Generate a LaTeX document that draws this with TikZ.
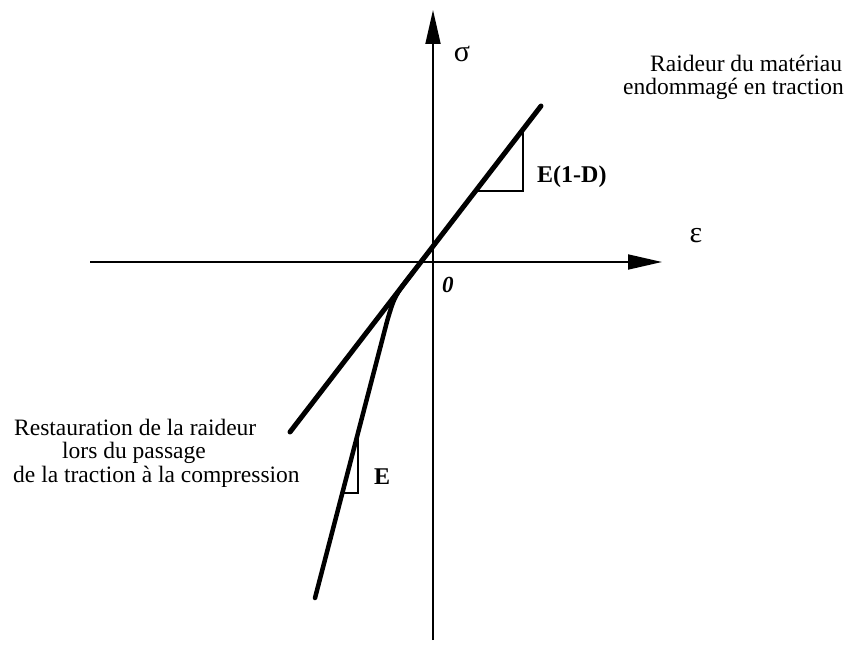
\documentclass[tikz,border=0pt]{standalone}
\usepackage{fontspec}
\setmainfont{Liberation Serif}
\usetikzlibrary{arrows.meta}
\begin{document}
\begin{tikzpicture}[x=1pt,y=-1pt,
  axis/.style={line width=1.8pt,-{Triangle[length=34pt,width=15pt]}},
  curve/.style={line width=5pt,line cap=round},
  tri/.style={line width=1.6pt},
  lbl/.style={inner sep=0pt,font=\fontsize{23.5}{23.5}\selectfont},
  blbl/.style={inner sep=0pt,font=\fontsize{24}{24}\selectfont\bfseries},
  greek/.style={inner sep=0pt,font=\fontsize{30}{30}\selectfont}]
\useasboundingbox (0,0) rectangle (851,652);
% axes
\coordinate (yb) at (433,640);
\coordinate (yt) at (433,10);
\coordinate (xl) at (90,262);
\coordinate (xr) at (662,262);
\draw[axis] (yb) -- (yt);
\draw[axis] (xl) -- (xr);
% damaged stiffness line
\coordinate (d1) at (290,432);
\coordinate (d2) at (541,106);
\draw[curve] (d1) -- (d2);
% restored stiffness line
\coordinate (s1) at (315,598);
\coordinate (s2) at (387.4,320);
\coordinate (sk) at (394.6,296);
\coordinate (s3) at (412.4,273);
\draw[curve,line width=4.5pt] (s1) -- (s2) .. controls (sk) .. (s3);
% slope triangles
\coordinate (t1a) at (475.6,191);
\coordinate (t1b) at (523,191);
\coordinate (t1c) at (523,129.4);
\draw[tri] (t1a) -- (t1b) -- (t1c);
\coordinate (t2a) at (342.3,493);
\coordinate (t2b) at (358,493);
\coordinate (t2c) at (358,433);
\draw[tri] (t2a) -- (t2b) -- (t2c);
% labels
\node[greek] (sig) at (462,54) {σ};
\node[greek] (eps) at (696,236) {ε};
\node[inner sep=0pt,anchor=base west,font=\fontsize{23}{23}\selectfont\bfseries\itshape] (zero) at (442,293) {0};
\node[blbl,anchor=base west] (e1d) at (537,183) {E(1-D)};
\node[blbl,anchor=base west] (ee) at (374,484) {E};
\node[lbl,anchor=base west] (r1) at (650,72) {Raideur\ du matériau};
\node[lbl,anchor=base west] (r2) at (623,95) {endommagé en traction};
\node[lbl,anchor=base west] (l1) at (14,435) {Restauration de la raideur};
\node[lbl,anchor=base west] (l2) at (62,458) {lors du passage};
\node[lbl,anchor=base west] (l3) at (13,482) {de la traction à la compression};
\end{tikzpicture}
\end{document}
